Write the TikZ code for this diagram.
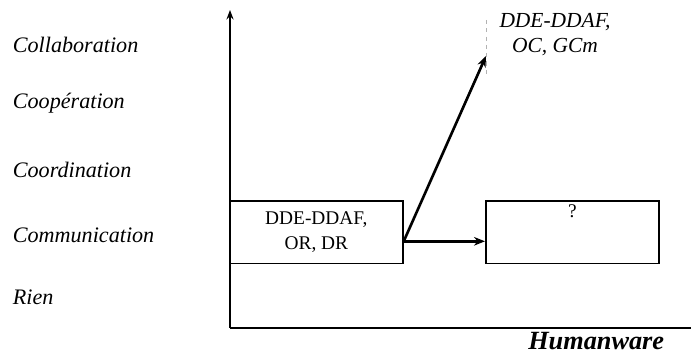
\documentclass[tikz,border=0pt]{standalone}
\usepackage{fontspec}
\setmainfont{Liberation Serif}
\usepackage{tikz}
\usetikzlibrary{arrows.meta,positioning}

\begin{document}
\begin{tikzpicture}[
  x=0.0254cm,y=-0.0254cm,
  every node/.style={font=\fontsize{14}{18}\selectfont,align=center},
  level/.style={anchor=west,font=\fontsize{16}{18}\selectfont\itshape},
  box/.style={draw,line width=1.1pt,minimum width=4.4cm,minimum height=1.6cm,inner sep=2pt},
  axis/.style={line width=2pt},
  arr/.style={-{Stealth[length=2.8mm,width=2.2mm]},line width=1.9pt}
]
\useasboundingbox (0,0) rectangle (691,353);

\coordinate (origin) at (230,328);
\coordinate (ytop) at (230,10);
\coordinate (xend) at (691,328);
\draw[axis,-{Stealth[length=2.4mm,width=1.8mm]}] (origin) -- (ytop);
\draw[axis] (origin) -- (xend);

\node[level] (collab) at (8,45) {Collaboration};
\node[level] (coop) at (8,103) {Coopération};
\node[level] (coord) at (8,170) {Coordination};
\node[level] (comm) at (8,235) {Communication};
\node[level] (rien) at (8,297) {Rien};

\node[box,anchor=north west] (now) at (229,200) {DDE-DDAF,\\OR, DR};
\node[box,anchor=north west] (next) at (485,200) {};
\node[anchor=north] (unknown) at (next.north) {?};
\node[font=\fontsize{15.5}{18}\selectfont\itshape] (goal) at (555,35) {DDE-DDAF,\\OC, GCm};
\coordinate (tip) at (486,56);
\draw[gray!60,dashed,line width=0.4pt] (486,20) -- (486,76);

\node[font=\fontsize{19}{21}\selectfont\bfseries\itshape,anchor=east] (hw) at (669,341) {Humanware};

\draw[arr] ([yshift=-0.23cm]now.east) -- ([yshift=-0.23cm]next.west);
\draw[arr] ([yshift=-0.23cm]now.east) -- (tip);
\end{tikzpicture}
\end{document}
